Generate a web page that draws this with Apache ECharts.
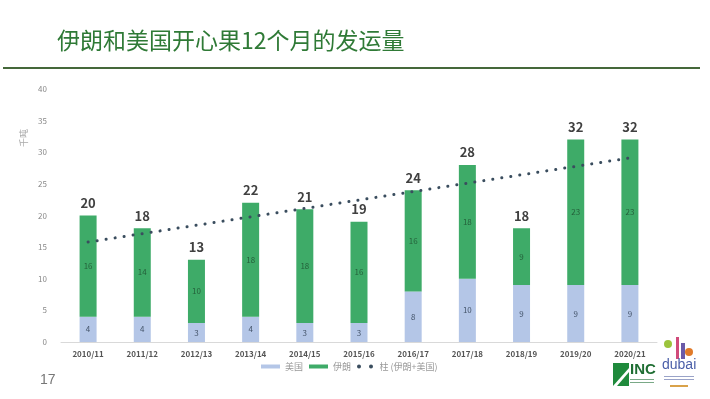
<!DOCTYPE html>
<html>
<head>
<meta charset="utf-8">
<script src="https://cdn.jsdelivr.net/npm/echarts@6/dist/echarts.min.js"></script>
<style>
  html, body { margin: 0; padding: 0; background: #fff; }
  #chart { width: 710px; height: 399px; }
</style>
</head>
<body>
<div id="chart"></div>
<script>
var years = ["2010/11", "2011/12", "2012/13", "2013/14", "2014/15", "2015/16",
  "2016/17", "2017/18", "2018/19", "2019/20", "2020/21"];
var usa = [4, 4, 3, 4, 3, 3, 8, 10, 9, 9, 9];
var iran = [16, 14, 10, 18, 18, 16, 16, 18, 9, 23, 23];
var totals = [20, 18, 13, 22, 21, 19, 24, 28, 18, 32, 32];
// trendline read at the two ends
var trend = [15.8, null, null, null, null, null, null, null, null, null, 29.1];

var chart = echarts.init(document.getElementById("chart"));
var font = "'Noto Sans CJK SC', 'Noto Sans', sans-serif";

var option = {
  backgroundColor: "#fff",
  animation: false,
  textStyle: { fontFamily: font },
  title: {
    text: "伊朗和美国开心果12个月的发运量",
    left: 52,
    top: 24,
    textStyle: { color: "#2f7a36", fontSize: 23, fontWeight: "normal", fontFamily: font }
  },
  graphic: [
    // rule under the title
    { type: "rect", shape: { x: 3, y: 67, width: 697, height: 2 }, style: { fill: "#45683a" } },
    // y axis title
    { type: "text", x: 24, y: 138, rotation: Math.PI / 2,
      style: { text: "千吨", fill: "#aaa", fontSize: 9, align: "center", verticalAlign: "middle", fontFamily: font } },
    { type: "text", left: 40, top: 373, style: { text: "17", fill: "#777", fontSize: 14, fontFamily: "Liberation Sans" } },
    // INC logo
    { type: "rect", shape: { x: 613, y: 363, width: 16, height: 23 }, style: { fill: "#1f8a3c" } },
    { type: "polygon", shape: { points: [[613, 386], [629, 368], [629, 372], [617, 386]] }, style: { fill: "#fff" } },
    { type: "text", left: 630, top: 362, style: { text: "INC", fill: "#1f6e33", fontSize: 15, fontWeight: "bold", fontFamily: "Liberation Sans" } },
    { type: "rect", shape: { x: 630, y: 379, width: 24, height: 1 }, style: { fill: "#7aa987" } },
    { type: "rect", shape: { x: 630, y: 382, width: 24, height: 1 }, style: { fill: "#7aa987" } },
    // dubai logo
    { type: "circle", shape: { cx: 668, cy: 344, r: 4 }, style: { fill: "#9cc43c" } },
    { type: "rect", shape: { x: 676, y: 337, width: 3, height: 22 }, style: { fill: "#d04a7a" } },
    { type: "rect", shape: { x: 681, y: 343, width: 4, height: 16 }, style: { fill: "#6a5aa8" } },
    { type: "circle", shape: { cx: 689, cy: 352, r: 4 }, style: { fill: "#e07a2a" } },
    { type: "text", left: 662, top: 358, style: { text: "dubai", fill: "#4a5ea8", fontSize: 14, fontFamily: "Liberation Sans" } },
    { type: "rect", shape: { x: 664, y: 376, width: 30, height: 1 }, style: { fill: "#9aa3c8" } },
    { type: "rect", shape: { x: 664, y: 379, width: 30, height: 1 }, style: { fill: "#9aa3c8" } },
    { type: "rect", shape: { x: 670, y: 385, width: 18, height: 2 }, style: { fill: "#d9a24a" } }
  ],
  legend: {
    bottom: 23,
    left: 256,
    itemWidth: 19,
    itemHeight: 4,
    itemGap: 6,
    textStyle: { color: "#999", fontSize: 9 },
    data: [
      { name: "美国", icon: "rect" },
      { name: "伊朗", icon: "rect" },
      {
        name: "柱 (伊朗+美国)",
        icon: "path://M2,4a2,2 0 1,0 4,0a2,2 0 1,0 -4,0zM14,4a2,2 0 1,0 4,0a2,2 0 1,0 -4,0z",
        lineStyle: { opacity: 0, width: 0 }
      }
    ]
  },
  grid: { left: 61, right: 53, top: 89, bottom: 57 },
  xAxis: {
    type: "category",
    data: years,
    axisLine: { lineStyle: { color: "#d9d9d9" } },
    axisTick: { show: false },
    axisLabel: { color: "#555", fontSize: 8, fontWeight: "bold", margin: 8 }
  },
  yAxis: {
    type: "value",
    min: 0,
    max: 40,
    interval: 5,
    splitLine: { show: false },
    axisLine: { show: false },
    axisTick: { show: false },
    axisLabel: { color: "#888", fontSize: 8, margin: 14 }
  },
  series: [
    {
      name: "美国",
      type: "bar",
      stack: "t",
      barWidth: 17,
      data: usa,
      itemStyle: { color: "#b4c6e7" },
      label: { show: true, position: "inside", color: "#44546a", fontSize: 8 }
    },
    {
      name: "伊朗",
      type: "bar",
      stack: "t",
      barWidth: 17,
      data: iran,
      itemStyle: { color: "#3eab68" },
      label: { show: true, position: "inside", color: "#24603a", fontSize: 8 }
    },
    {
      name: "总计",
      type: "bar",
      stack: "t",
      barWidth: 17,
      data: totals.map(function () { return 0; }),
      itemStyle: { color: "transparent" },
      label: {
        show: true,
        position: "top",
        distance: 6,
        color: "#404040",
        fontSize: 13,
        fontWeight: "bold",
        formatter: function (p) { return totals[p.dataIndex]; }
      }
    },
    {
      name: "柱 (伊朗+美国)",
      type: "line",
      data: trend,
      connectNulls: true,
      symbol: "none",
      itemStyle: { color: "#3a4d5e" },
      lineStyle: { color: "#3a4d5e", width: 3, type: [0.1, 9], cap: "round" },
      z: 5
    }
  ]
};

chart.setOption(option);
</script>
</body>
</html>
